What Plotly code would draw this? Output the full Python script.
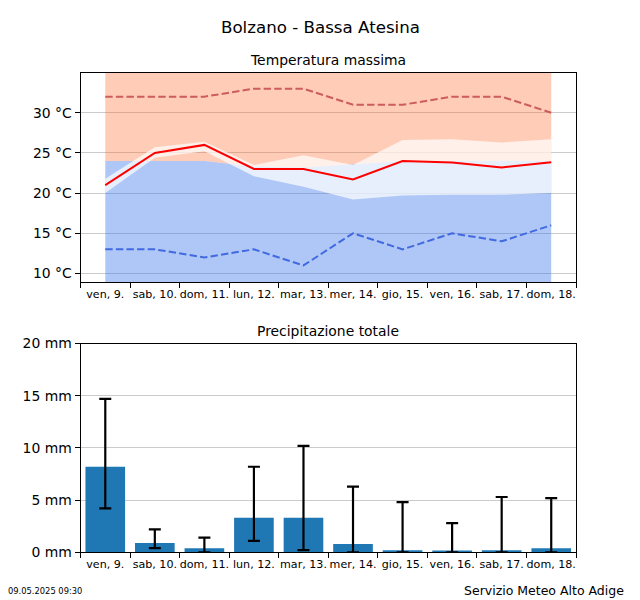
import plotly.graph_objects as go

days = ["ven, 9.", "sab, 10.", "dom, 11.", "lun, 12.", "mar, 13.", "mer, 14.", "gio, 15.", "ven, 16.", "sab, 17.", "dom, 18."]
x_pos = [0.5, 1.5, 2.5, 3.5, 4.5, 5.5, 6.5, 7.5, 8.5, 9.5]
day_edges = [0, 1, 2, 3, 4, 5, 6, 7, 8, 9, 10]

t_mean = [21, 25, 26, 23, 23, 21.7, 24, 23.8, 23.2, 23.85]
t_high = [32, 32, 32, 33, 33, 31, 31, 32, 32, 30]
t_low = [13, 13, 12, 13, 11, 15, 13, 15, 14, 16]
band_up = [21.8, 25.7, 26.4, 23.5, 24.7, 23.5, 26.6, 26.7, 26.3, 26.7]
band_lo = [20, 24.4, 25.2, 22.1, 20.8, 19.2, 19.7, 19.8, 19.8, 20]
clim_mid = [24, 24, 24, 23.3, 23.2, 23.6, 24, 24, 24, 24]
T_MIN, T_MAX = 8.9, 35.0
floor_vals = [T_MIN] * 10
ceil_vals = [T_MAX] * 10

rain = [8.2, 0.9, 0.4, 3.3, 3.3, 0.8, 0.2, 0.1, 0.2, 0.4]
rain_lo = [4.2, 0.4, 0, 1.1, 0.2, 0, 0, 0, 0, 0]
rain_hi = [14.7, 2.2, 1.4, 8.2, 10.2, 6.3, 4.8, 2.8, 5.3, 5.2]

temp_ticks = [10, 15, 20, 25, 30]
rain_ticks = [0, 5, 10, 15, 20]

FONT = "DejaVu Sans"
BLUE_FILL = "rgba(60,120,232,0.41)"
ORANGE_FILL = "rgba(255,99,40,0.33)"
DASH = "7.4px,3.2px"

fig = go.Figure()


def add_fill(lower, upper, color):
    fig.add_trace(go.Scatter(x=x_pos, y=lower, mode="lines", line=dict(width=0), showlegend=False, hoverinfo="skip"))
    fig.add_trace(go.Scatter(x=x_pos, y=upper, mode="lines", line=dict(width=0), fill="tonexty",
                             fillcolor=color, showlegend=False, hoverinfo="skip"))


add_fill(floor_vals, clim_mid, BLUE_FILL)
add_fill(clim_mid, ceil_vals, ORANGE_FILL)
add_fill(band_lo, band_up, "rgba(255,255,255,0.7)")

fig.add_trace(go.Scatter(x=x_pos, y=t_high, mode="lines", line=dict(color="indianred", width=2, dash=DASH), showlegend=False))
fig.add_trace(go.Scatter(x=x_pos, y=t_low, mode="lines", line=dict(color="royalblue", width=2, dash=DASH), showlegend=False))
fig.add_trace(go.Scatter(x=x_pos, y=t_mean, mode="lines", line=dict(color="red", width=2), showlegend=False))

fig.add_trace(go.Bar(
    x=x_pos, y=rain, width=0.8, marker=dict(color="#1f77b4", line=dict(width=0)), showlegend=False,
    error_y=dict(type="data", symmetric=False,
                 array=[h - v for h, v in zip(rain_hi, rain)],
                 arrayminus=[v - l for v, l in zip(rain, rain_lo)],
                 color="black", thickness=2.2, width=6),
    xaxis="x2", yaxis="y2",
))

common_x = dict(
    range=[0, 10], tickmode="array", tickvals=x_pos, ticktext=days, ticks="", showgrid=False, zeroline=False,
    tickfont=dict(family=FONT, size=11.1, color="#000"), tickangle=0, ticklabelstandoff=1,
    showline=True, linecolor="black", linewidth=1, mirror=True,
    minor=dict(tickmode="array", tickvals=day_edges, ticks="outside", ticklen=5, tickwidth=1, tickcolor="black", showgrid=False),
)
common_y = dict(
    showgrid=True, gridcolor="rgba(160,160,160,0.55)", gridwidth=1.2, zeroline=False, tickmode="array",
    ticks="outside", ticklen=5, tickwidth=1, tickcolor="black",
    tickfont=dict(family=FONT, size=13.9, color="#000"),
    showline=True, linecolor="black", linewidth=1, mirror=True,
)

fig.update_layout(
    width=640, height=600, margin=dict(l=0, r=0, t=0, b=0, autoexpand=False), paper_bgcolor="white", plot_bgcolor="white",
    showlegend=False, barmode="overlay",
    xaxis=dict(domain=[80.5 / 640, 576 / 640], anchor="y", **common_x),
    yaxis=dict(domain=[1 - 282.3 / 600, 1 - 72.6 / 600], anchor="x", range=[T_MIN, T_MAX],
               tickvals=temp_ticks, ticktext=[f"{v} °C" for v in temp_ticks], **common_y),
    xaxis2=dict(domain=[80.5 / 640, 576 / 640], anchor="y2", **common_x),
    yaxis2=dict(domain=[1 - 552.3 / 600, 1 - 343.6 / 600], anchor="x2", range=[0, 20],
                tickvals=rain_ticks, ticktext=[f"{v} mm" for v in rain_ticks], **common_y),
    annotations=[
        dict(text="Bolzano - Bassa Atesina", x=320 / 640, y=1 - 27 / 600, xref="paper", yref="paper",
             showarrow=False, xanchor="center", yanchor="middle", font=dict(family=FONT, size=16.67, color="#000")),
        dict(text="Temperatura massima", x=328 / 640, y=1 - 60 / 600, xref="paper", yref="paper",
             showarrow=False, xanchor="center", yanchor="middle", font=dict(family=FONT, size=13.9, color="#000")),
        dict(text="Precipitazione totale", x=328 / 640, y=1 - 331 / 600, xref="paper", yref="paper",
             showarrow=False, xanchor="center", yanchor="middle", font=dict(family=FONT, size=13.9, color="#000")),
        dict(text="09.05.2025 09:30", x=6 / 640, y=1 - 591 / 600, xref="paper", yref="paper",
             showarrow=False, xanchor="left", yanchor="middle", font=dict(family=FONT, size=8.33, color="#000")),
        dict(text="Servizio Meteo Alto Adige", x=626 / 640, y=1 - 590 / 600, xref="paper", yref="paper",
             showarrow=False, xanchor="right", yanchor="middle", font=dict(family=FONT, size=12.5, color="#000")),
    ],
)

fig.write_html("out.html", config={"displayModeBar": False}, post_script="document.body.style.margin='0';")
